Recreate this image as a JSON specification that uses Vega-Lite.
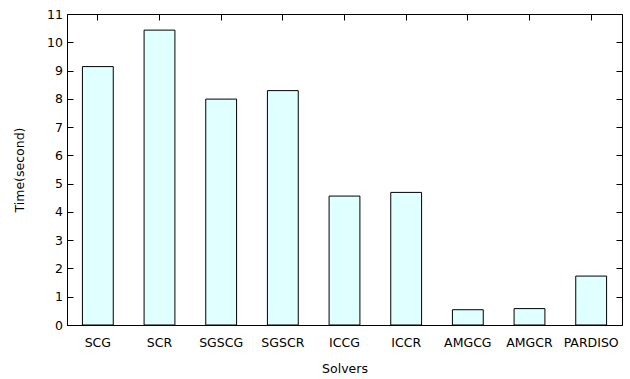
{
  "$schema": "https://vega.github.io/schema/vega-lite/v6.json",
  "width": 555,
  "height": 311,
  "autosize": {"type": "none"},
  "padding": {"left": 67, "top": 14, "right": 8, "bottom": 54},
  "background": "white",
  "config": {
    "view": {"stroke": "black", "strokeWidth": 1},
    "axis": {"labelFont": "DejaVu Sans", "titleFont": "DejaVu Sans", "labelFontSize": 12.5, "titleFontSize": 12.5, "labelColor": "black", "titleColor": "black", "titleFontWeight": "normal", "domainColor": "black", "tickColor": "black", "grid": false}
  },
  "data": {"values": [
    {"solver": "SCG", "time": 9.14},
    {"solver": "SCR", "time": 10.43},
    {"solver": "SGSCG", "time": 7.99},
    {"solver": "SGSCR", "time": 8.29},
    {"solver": "ICCG", "time": 4.56},
    {"solver": "ICCR", "time": 4.69},
    {"solver": "AMGCG", "time": 0.54},
    {"solver": "AMGCR", "time": 0.58},
    {"solver": "PARDISO", "time": 1.73}
  ]},
  "layer": [
    {
      "mark": {"type": "bar", "fill": "#e0ffff", "stroke": "black", "strokeWidth": 1},
      "encoding": {
        "x": {"field": "solver", "type": "nominal", "sort": null,
              "scale": {"paddingInner": 0.5, "paddingOuter": 0.25},
              "axis": {"orient": "bottom", "title": "Solvers", "labelAngle": 0, "ticks": false, "labelPadding": 11, "titlePadding": 14}},
        "y": {"field": "time", "type": "quantitative",
              "scale": {"domain": [0, 11], "nice": false},
              "axis": {"orient": "left", "title": "Time(second)", "tickCount": 11, "ticks": true, "offset": -6, "tickSize": 6, "domain": false, "labelPadding": 4.5, "titlePadding": 20, "zindex": 1}}
      }
    },
    {
      "mark": {"type": "bar", "fillOpacity": 0, "strokeOpacity": 0},
      "encoding": {
        "x": {"field": "solver", "type": "nominal", "sort": null,
              "axis": {"orient": "top", "title": null, "labels": false, "ticks": true, "offset": -6, "tickSize": 6, "domain": false, "zindex": 1}},
        "y": {"field": "time", "type": "quantitative",
              "axis": {"orient": "right", "title": null, "labels": false, "tickCount": 11, "ticks": true, "offset": -6, "tickSize": 6, "domain": false, "zindex": 1}}
      }
    }
  ],
  "resolve": {"axis": {"x": "independent", "y": "independent"}}
}
